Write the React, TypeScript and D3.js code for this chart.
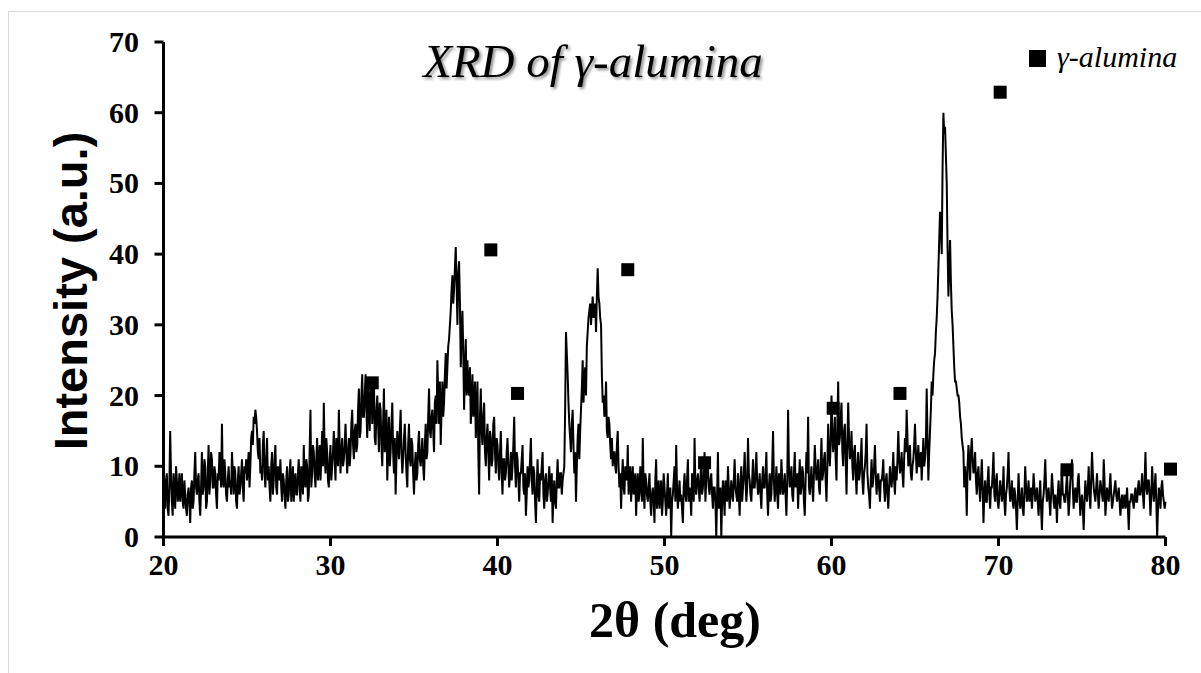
import React from 'react';
import * as d3 from 'd3';

const START_DEG = 20;
const STEP_DEG = 0.05;

// readings at x.x0 positions
const int20s = [
  7, 4, 9, 3, 15, 5, 9, 4, 8, 6,
  5, 9, 4, 6, 3, 7, 2, 8, 5, 12,
  6, 9, 3, 12, 7, 10, 5, 13, 8, 11,
  7, 9, 4, 8, 10, 16, 7, 9, 5, 10,
  8, 12, 6, 9, 4, 10, 7, 11, 5, 9,
  8, 12, 10, 15, 17, 18, 15, 11, 9, 8,
  15, 7, 14, 10, 5, 12, 8, 13, 6, 9,
  11, 5, 8, 4, 10, 6, 11, 7, 5, 9,
  6, 11, 5, 9, 13, 7, 10, 6, 18, 9,
  12, 7, 14, 10, 8, 15, 19, 9, 12, 7,
];
const int30s = [
  13, 10, 15, 8, 12, 18, 9, 14, 11, 16,
  9, 14, 12, 18, 11, 16, 13, 21, 15, 23,
  17, 23, 14, 19, 22, 16, 22, 13, 20, 12,
  18, 10, 21, 14, 8, 17, 12, 19, 9, 6,
  15, 11, 18, 9, 14, 12, 7, 16, 10, 13,
  6, 12, 9, 15, 10, 14, 8, 16, 12, 21,
  14, 18, 12, 20, 25, 16, 13, 22, 19, 26,
  24, 28, 32, 37, 35, 41, 30, 39, 24, 32,
  18, 28, 25, 20, 16, 23, 19, 14, 22, 6,
  21, 13, 19, 10, 16, 8, 14, 11, 17, 9,
];
const int40s = [
  13, 8, 15, 6, 11, 9, 14, 7, 12, 10,
  17, 7, 11, 5, 9, 13, 6, 3, 10, 8,
  14, 6, 9, 2, 11, 5, 8, 12, 4, 9,
  6, 10, 5, 2, 8, 4, 11, 7, 9, 8,
  10, 29, 23, 16, 12, 18, 9, 5, 14, 11,
  18, 25, 22, 20, 29, 32, 30, 34, 32, 29,
  38, 33, 30, 19, 17, 22, 14, 16, 11, 10,
  12, 9, 15, 7, 4, 11, 6, 9, 13, 8,
  5, 10, 7, 3, 9, 6, 8, 14, 4, 8,
  5, 9, 3, 7, 2, 11, 6, 4, 8, 5,
];
const int50s = [
  7, 3, 9, 5, 0, 6, 10, 13, 4, 8,
  6, 2, 9, 5, 11, 7, 3, 8, 14, 6,
  9, 5, 11, 7, 12, 8, 10, 6, 9, 4,
  7, 0, 12, 5, 0, 8, 3, 6, 10, 4,
  8, 5, 11, 6, 9, 3, 10, 7, 12, 5,
  14, 8, 5, 11, 7, 12, 6, 9, 4, 10,
  7, 12, 3, 9, 6, 15, 5, 10, 4, 8,
  11, 6, 9, 3, 18, 7, 10, 5, 12, 8,
  4, 11, 7, 9, 3, 12, 17, 6, 10, 5,
  13, 8, 11, 6, 14, 9, 12, 5, 16, 10,
];
const int60s = [
  20, 12, 17, 8, 22, 14, 19, 10, 16, 6,
  19, 11, 15, 8, 13, 6, 12, 9, 14, 6,
  10, 16, 7, 4, 11, 8, 13, 6, 9, 5,
  8, 11, 5, 9, 4, 10, 7, 12, 6, 8,
  15, 9, 12, 7, 14, 18, 10, 13, 8, 11,
  16, 9, 13, 10, 8, 14, 11, 21, 8, 15,
  22, 23, 26, 31, 38, 46, 40, 60, 58, 50,
  34, 42, 32, 27, 22, 21, 20, 17, 14, 12,
  10, 3, 13, 8, 14, 9, 12, 6, 10, 5,
  11, 2, 8, 5, 10, 4, 7, 12, 5, 9,
];
const int70s = [
  4, 8, 5, 10, 3, 7, 12, 5, 8, 4,
  6, 1, 9, 4, 7, 3, 10, 5, 8, 6,
  4, 9, 5, 7, 3, 8, 1, 6, 11, 5,
  7, 3, 9, 5, 6, 2, 8, 4, 10, 6,
  5, 9, 3, 8, 11, 4, 7, 5, 9, 3,
  6, 1, 8, 5, 10, 4, 12, 7, 5, 9,
  4, 8, 6, 11, 3, 7, 5, 9, 4, 6,
  8, 5, 7, 3, 6, 5, 4, 7, 1, 5,
  6, 4, 7, 5, 8, 6, 9, 4, 12, 6,
  8, 3, 10, 5, 9, 0, 7, 4, 8, 5,
];
const int80s = [5];

// readings at x.x5 positions
const half20s = [
  5, 8, 4, 7, 9, 3, 6, 10, 5, 9,
  7, 5, 8, 4, 6, 5, 7, 4, 9, 7,
  8, 5, 7, 6, 11, 4, 9, 6, 12, 7,
  10, 6, 9, 12, 7, 8, 11, 6, 8, 7,
  6, 9, 10, 5, 8, 6, 9, 7, 10, 11,
  10, 7, 14, 13, 16, 17, 12, 14, 10, 13,
  9, 11, 8, 7, 10, 6, 11, 7, 10, 8,
  7, 9, 6, 8, 5, 9, 5, 10, 8, 6,
  9, 7, 10, 6, 8, 11, 5, 12, 7, 13,
  9, 11, 8, 13, 11, 10, 12, 14, 8, 11,
];
const half30s = [
  8, 12, 11, 14, 10, 13, 12, 10, 13, 12,
  12, 10, 16, 13, 15, 12, 18, 14, 20, 17,
  20, 18, 21, 15, 22, 20, 14, 18, 16, 19,
  13, 16, 12, 18, 13, 10, 16, 12, 14, 11,
  13, 15, 12, 11, 16, 9, 13, 11, 14, 9,
  10, 8, 13, 11, 12, 10, 13, 11, 17, 15,
  17, 15, 19, 16, 20, 22, 18, 17, 23, 21,
  27, 30, 35, 33, 38, 36, 37, 33, 29, 26,
  24, 20, 21, 24, 19, 17, 22, 18, 12, 17,
  15, 17, 12, 14, 12, 15, 10, 16, 12, 14,
];
const half40s = [
  10, 12, 9, 11, 8, 12, 10, 9, 8, 13,
  10, 12, 8, 9, 11, 7, 9, 6, 7, 11,
  8, 10, 5, 7, 6, 9, 10, 6, 8, 5,
  8, 7, 9, 6, 5, 8, 7, 9, 6, 9,
  18, 26, 19, 14, 16, 13, 12, 10, 16, 15,
  21, 19, 24, 27, 31, 33, 32, 31, 33, 34,
  34, 31, 23, 20, 18, 15, 17, 13, 14, 12,
  10, 13, 10, 9, 8, 7, 10, 8, 6, 10,
  8, 6, 9, 7, 5, 10, 5, 7, 9, 6,
  7, 5, 6, 5, 8, 4, 8, 6, 3, 9,
];
const half50s = [
  5, 6, 4, 7, 5, 8, 5, 7, 6, 5,
  4, 7, 6, 8, 5, 6, 9, 5, 7, 8,
  7, 8, 6, 9, 5, 11, 7, 8, 6, 7,
  5, 6, 4, 7, 5, 6, 8, 5, 7, 6,
  6, 8, 7, 5, 6, 8, 5, 9, 8, 7,
  9, 6, 8, 7, 9, 8, 7, 6, 8, 7,
  9, 6, 7, 5, 10, 8, 7, 6, 9, 6,
  8, 7, 6, 8, 10, 8, 6, 9, 7, 9,
  8, 6, 10, 5, 8, 9, 7, 8, 7, 9,
  10, 9, 7, 10, 8, 11, 8, 10, 12, 13,
];
const half60s = [
  15, 14, 11, 16, 13, 17, 12, 15, 11, 13,
  14, 12, 10, 12, 9, 10, 8, 11, 8, 9,
  12, 9, 6, 8, 7, 10, 9, 8, 7, 8,
  9, 7, 8, 6, 7, 8, 9, 8, 10, 11,
  11, 10, 9, 11, 12, 14, 11, 9, 10, 13,
  12, 11, 10, 12, 11, 10, 13, 14, 12, 18,
  20, 25, 29, 34, 42, 44, 52, 57, 54, 41,
  38, 36, 30, 24, 22, 20, 19, 16, 13, 7,
  8, 10, 11, 12, 11, 10, 8, 9, 7, 8,
  7, 6, 5, 8, 6, 7, 9, 6, 8, 5,
];
const half70s = [
  6, 7, 6, 5, 6, 9, 7, 6, 5, 7,
  4, 5, 6, 5, 4, 6, 7, 6, 5, 7,
  6, 7, 6, 5, 6, 4, 5, 8, 7, 6,
  5, 6, 7, 4, 5, 6, 5, 7, 6, 5,
  7, 6, 5, 9, 7, 6, 5, 8, 6, 5,
  4, 5, 6, 7, 6, 8, 9, 6, 7, 6,
  6, 7, 5, 8, 5, 6, 7, 6, 5, 7,
  6, 6, 5, 5, 4, 6, 5, 4, 5, 6,
  5, 6, 5, 7, 6, 7, 6, 8, 7, 8,
  6, 6, 7, 7, 5, 4, 6, 7, 6, 4,
];

const tenthReadings = [...int20s, ...int30s, ...int40s, ...int50s, ...int60s, ...int70s, ...int80s];
const halfReadings = [...half20s, ...half30s, ...half40s, ...half50s, ...half60s, ...half70s];
const intensity = tenthReadings.flatMap((v, i) => (i < halfReadings.length ? [v, halfReadings[i]] : [v]));

const peakMarkX = [32.5, 39.6, 41.2, 47.8, 52.4, 60.1, 64.1, 70.1, 74.1, 80.3];
const peakMarkY = [21.8, 40.6, 20.3, 37.8, 10.5, 18.2, 20.3, 62.9, 9.5, 9.6];

const xTicks = [20, 30, 40, 50, 60, 70, 80];
const yTicks = [0, 10, 20, 30, 40, 50, 60, 70];

const titleText = 'XRD of γ-alumina';
const legendText = 'γ-alumina';
const xLabel = '2θ (deg)';
const yLabel = 'Intensity (a.u.)';

const W = 1201;
const H = 673;

export default function App() {
  const x = d3.scaleLinear().domain([20, 80]).range([163.5, 1165.5]);
  const y = d3.scaleLinear().domain([0, 70]).range([537, 42]);
  const pts: [number, number][] = intensity.map((v, i) => [START_DEG + i * STEP_DEG, v]);
  const line = d3
    .line<[number, number]>()
    .x((d) => x(d[0]))
    .y((d) => y(d[1]));
  const serif = "'Liberation Serif', 'Times New Roman', serif";
  const sans = "'Liberation Sans', Arial, sans-serif";
  const ms = 13;
  return (
    <svg width={W} height={H} style={{ position: 'absolute', left: 0, top: 0, background: '#fff' }}>
      <defs>
        <filter id="tshadow" x="-10%" y="-30%" width="120%" height="160%">
          <feDropShadow dx="2" dy="2" stdDeviation="1.6" floodColor="#000" floodOpacity="0.45" />
        </filter>
      </defs>
      <rect x={8.5} y={11.5} width={W} height={H} fill="#fff" stroke="#d9d9d9" strokeWidth={1} />
      <path d={line(pts) || ''} fill="none" stroke="#000" strokeWidth={2} strokeLinejoin="miter" strokeMiterlimit={4} />
      {peakMarkX.map((px, i) => (
        <rect key={i} x={x(px) - ms / 2} y={y(peakMarkY[i]) - ms / 2} width={ms} height={ms} fill="#000" />
      ))}
      <line x1={x(20)} x2={x(80)} y1={y(0)} y2={y(0)} stroke="#000" strokeWidth={3} />
      <line x1={x(20)} x2={x(20)} y1={y(0) + 1.5} y2={y(70)} stroke="#000" strokeWidth={3} />
      {yTicks.map((t) => (
        <g key={t}>
          <line x1={x(20) - 9} x2={x(20)} y1={y(t)} y2={y(t)} stroke="#000" strokeWidth={3} />
          <text x={139} y={y(t) + 10} textAnchor="end" fontFamily={serif} fontWeight="bold" fontSize={30}>
            {t}
          </text>
        </g>
      ))}
      {xTicks.map((t) => (
        <g key={t}>
          <line x1={x(t)} x2={x(t)} y1={y(0)} y2={y(0) + 9} stroke="#000" strokeWidth={3} />
          <text x={x(t)} y={575} textAnchor="middle" fontFamily={serif} fontWeight="bold" fontSize={30}>
            {t}
          </text>
        </g>
      ))}
      <text x={675} y={637} textAnchor="middle" fontFamily={serif} fontWeight="bold" fontSize={50}>
        {xLabel}
      </text>
      <text
        transform="translate(87,291) rotate(-90)"
        textAnchor="middle"
        fontFamily={sans}
        fontWeight="bold"
        fontSize={47}
      >
        {yLabel}
      </text>
      <text x={593} y={77} textAnchor="middle" fontFamily={serif} fontStyle="italic" fontSize={47} filter="url(#tshadow)">
        {titleText}
      </text>
      <rect x={1029} y={50} width={17} height={17} fill="#000" />
      <text x={1057} y={67} fontFamily={serif} fontStyle="italic" fontSize={30}>
        {legendText}
      </text>
    </svg>
  );
}
